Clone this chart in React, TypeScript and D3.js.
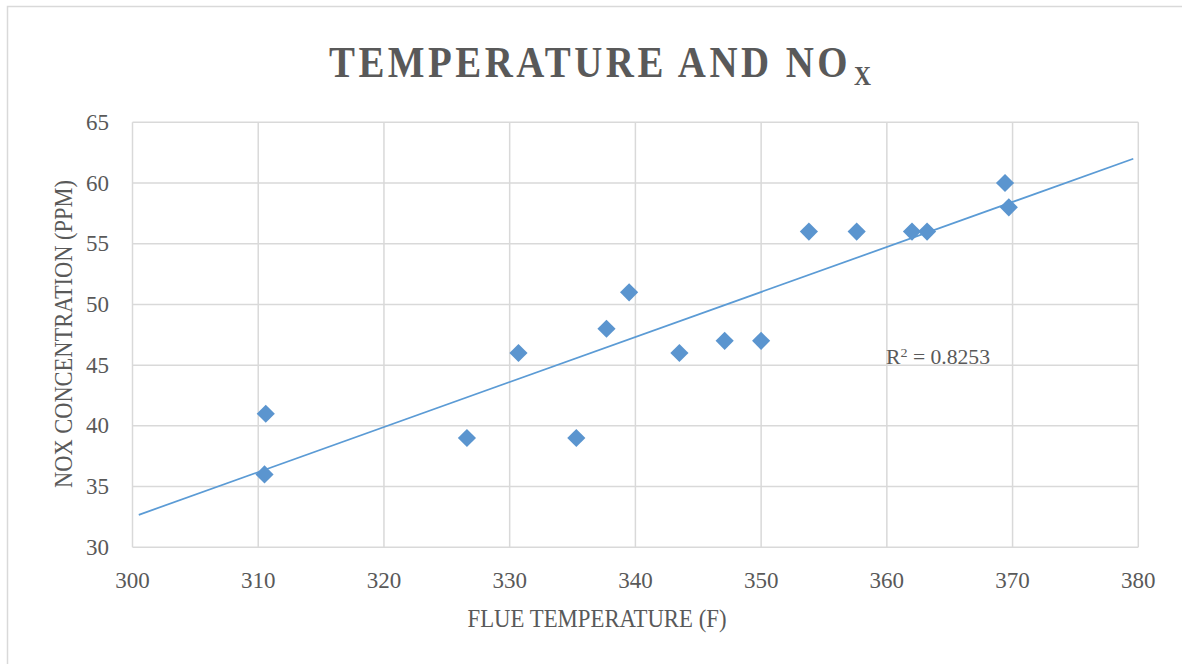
import React from "react";
import * as d3 from "d3";

const flueTemp = [310.6, 310.5, 326.6, 330.7, 335.3, 337.7, 339.5, 343.5, 347.1, 350.0, 353.8, 357.6, 362.0, 363.2, 369.4, 369.7];
const noxPpm = [41, 36, 39, 46, 39, 48, 51, 46, 47, 47, 56, 56, 56, 56, 60, 58];
const xTicks = [300, 310, 320, 330, 340, 350, 360, 370, 380];
const yTicks = [30, 35, 40, 45, 50, 55, 60, 65];
const trendRange = [300.5, 379.6];
const rSquaredLabel = "0.8253";

const W = 1182;
const H = 664;
const FONT = "'Liberation Serif', 'DejaVu Serif', serif";
const TEXT = "#595959";
const GRID = "#D9D9D9";
const BLUE = "#5B9BD5";
const MARK = "#5B95CF";

export default function App() {
  const x = d3.scaleLinear().domain([300, 380]).range([132.5, 1138.3]);
  const y = d3.scaleLinear().domain([30, 65]).range([547.3, 122.3]);

  // least squares fit
  const mx = d3.mean(flueTemp) as number;
  const my = d3.mean(noxPpm) as number;
  let sxy = 0, sxx = 0;
  flueTemp.forEach((v, i) => {
    sxy += (v - mx) * (noxPpm[i] - my);
    sxx += (v - mx) * (v - mx);
  });
  const slope = sxy / sxx;
  const icpt = my - slope * mx;
  const line = d3.line<number>().x((d) => x(d)).y((d) => y(icpt + slope * d));

  const diamond = d3.symbol().type(d3.symbolSquare).size(165)() as string;

  return (
    <svg
      width={W}
      height={H}
      style={{ position: "absolute", left: 0, top: 0, background: "#fff" }}
    >
      <rect x={0} y={0} width={W} height={H} fill="#fff" />
      <rect x={7.5} y={6.5} width={1300} height={800} fill="none" stroke={GRID} strokeWidth={1.5} />

      {/* title with subscript x */}
      <text x={329} y={77} fill={TEXT} fontFamily={FONT} fontWeight="bold" fontSize={45}>
        <tspan letterSpacing={4} textLength={522} lengthAdjust="spacingAndGlyphs">TEMPERATURE AND NO</tspan>
        <tspan x={854} dy={8} fontSize={28} letterSpacing={0} textLength={17} lengthAdjust="spacingAndGlyphs">X</tspan>
      </text>

      {/* gridlines */}
      {yTicks.map((t) => (
        <line key={"gy" + t} x1={x(300)} x2={x(380)} y1={y(t)} y2={y(t)} stroke={GRID} strokeWidth={1.5} />
      ))}
      {xTicks.map((t) => (
        <line key={"gx" + t} x1={x(t)} x2={x(t)} y1={y(30)} y2={y(65)} stroke={GRID} strokeWidth={1.5} />
      ))}

      {/* tick labels */}
      {yTicks.map((t) => (
        <text key={"ly" + t} x={109} y={y(t) + 7.5} textAnchor="end" fill={TEXT} fontFamily={FONT} fontSize={23}>{t}</text>
      ))}
      {xTicks.map((t) => (
        <text key={"lx" + t} x={x(t)} y={588} textAnchor="middle" fill={TEXT} fontFamily={FONT} fontSize={23}>{t}</text>
      ))}

      {/* axis titles */}
      <text x={597} y={627} textAnchor="middle" fill={TEXT} fontFamily={FONT} fontSize={26}
        textLength={259} lengthAdjust="spacingAndGlyphs">FLUE TEMPERATURE (F)</text>
      <text transform="translate(72,334) rotate(-90)" textAnchor="middle" fill={TEXT} fontFamily={FONT} fontSize={26}
        textLength={308} lengthAdjust="spacingAndGlyphs">NOX CONCENTRATION (PPM)</text>

      {/* trendline */}
      <path d={line(trendRange) as string} fill="none" stroke={BLUE} strokeWidth={1.75} />

      {/* points */}
      {flueTemp.map((v, i) => (
        <path key={"p" + i} d={diamond} transform={`translate(${x(v)},${y(noxPpm[i])}) rotate(45)`} fill={MARK} />
      ))}

      {/* R squared */}
      <text x={886} y={364} fill={TEXT} fontFamily={FONT} fontSize={20} textLength={104} lengthAdjust="spacingAndGlyphs">
        R<tspan dy={-7} fontSize={13}>2</tspan><tspan dy={7}> = {rSquaredLabel}</tspan>
      </text>
    </svg>
  );
}
